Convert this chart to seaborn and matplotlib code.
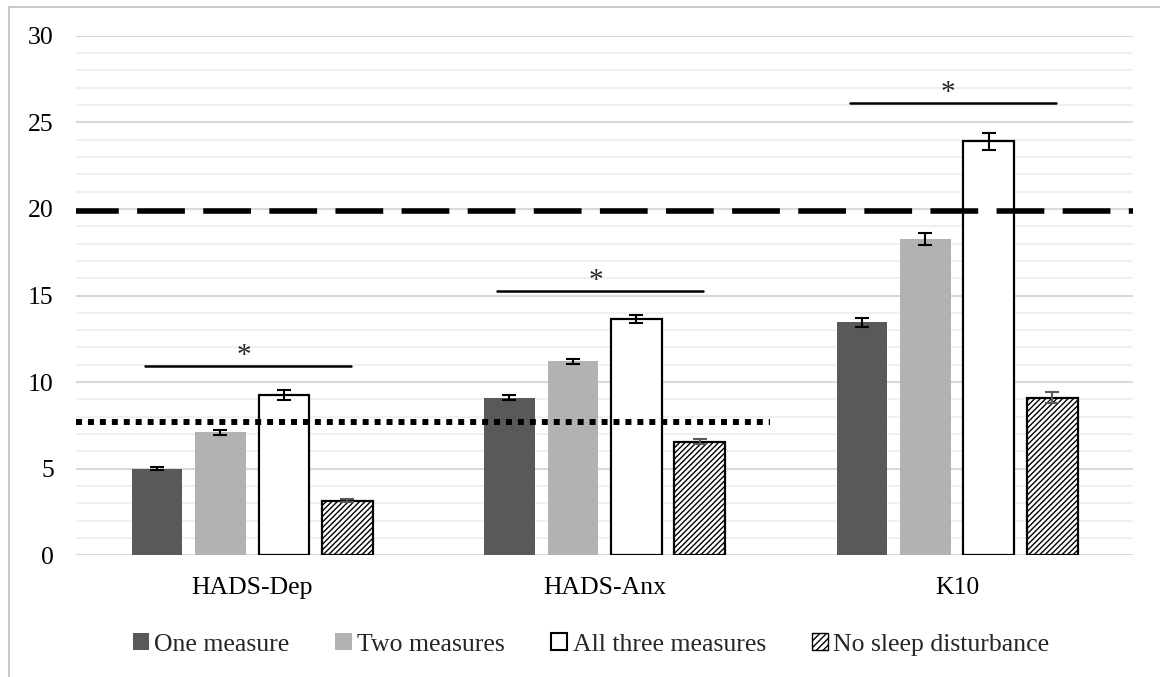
import numpy as np
import pandas as pd
import matplotlib
matplotlib.use("Agg")
import matplotlib.pyplot as plt
import seaborn as sns
from matplotlib.patches import Patch
from matplotlib.lines import Line2D

measures = ["HADS-Dep", "HADS-Anx", "K10"]
groups = ["One measure", "Two measures", "All three measures", "No sleep disturbance"]
values = {
    "One measure": [5.0, 9.1, 13.45],
    "Two measures": [7.1, 11.2, 18.25],
    "All three measures": [9.25, 13.65, 23.9],
    "No sleep disturbance": [3.15, 6.55, 9.1],
}
errors = {
    "One measure": [0.1, 0.15, 0.25],
    "Two measures": [0.15, 0.15, 0.35],
    "All three measures": [0.3, 0.25, 0.5],
    "No sleep disturbance": [0.1, 0.15, 0.3],
}
sig_levels = [10.9, 15.25, 26.1]
cutoff_k10 = 19.9
cutoff_hads = 7.7

sns.set_theme(style="white")
plt.rcParams["font.family"] = ["Liberation Serif", "DejaVu Serif"]
plt.rcParams["hatch.linewidth"] = 1.0

rows = []
for g in groups:
    for m, v in zip(measures, values[g]):
        rows.append({"measure": m, "group": g, "value": v})
df = pd.DataFrame(rows)

fig = plt.figure(figsize=(11.6, 6.77), dpi=100)
ax = fig.add_axes([0.0655, 0.180, 0.9115, 0.767])

face = {"One measure": "#595959", "Two measures": "#b2b2b2",
        "All three measures": "white", "No sleep disturbance": "white"}
sns.barplot(data=df, x="measure", y="value", hue="group", hue_order=groups,
            order=measures, palette=face, width=0.72, gap=0.2, errorbar=None,
            legend=False, ax=ax, zorder=3, saturation=1)

bar_containers = list(ax.containers)[:len(groups)]
for gi, container in enumerate(bar_containers):
    g = groups[gi]
    for bi, bar in enumerate(container):
        if g in ("All three measures", "No sleep disturbance"):
            bar.set_edgecolor("black")
            bar.set_linewidth(1.6)
        else:
            bar.set_edgecolor("none")
        if g == "No sleep disturbance":
            bar.set_hatch("//////")
        cx = bar.get_x() + bar.get_width() / 2
        ecol = "#595959" if g == "No sleep disturbance" else "black"
        ax.errorbar(cx, values[g][bi], yerr=errors[g][bi], fmt="none",
                    ecolor=ecol, elinewidth=1.5, capsize=5, capthick=1.5, zorder=4)

ax.set_xlim(-0.5, 2.5)
ax.set_ylim(0, 30)
ax.set_yticks(np.arange(0, 31, 5))
ax.set_yticks(np.arange(0, 31, 1), minor=True)
ax.grid(axis="y", which="minor", color="#f0f0f0", linewidth=1.5, zorder=0)
ax.grid(axis="y", which="major", color="#d9d9d9", linewidth=1.5, zorder=0)
ax.set_axisbelow(True)
for s in ax.spines.values():
    s.set_visible(False)
ax.tick_params(axis="both", which="both", length=0, labelsize=18.5, colors="black")
ax.tick_params(axis="y", pad=16)
ax.tick_params(axis="x", pad=16)
ax.set_xlabel("")
ax.set_ylabel("")

# reference lines
ax.axhline(cutoff_k10, xmin=0, xmax=1, color="black", linewidth=4,
           linestyle=(0.9, (8.6, 3.3)), zorder=5)
ax.plot([-0.5, 1.47], [cutoff_hads, cutoff_hads], color="black", linewidth=4.3,
        dashes=(1, 1), zorder=5, solid_capstyle="butt", dash_capstyle="butt")

# significance bars
for i, lvl in enumerate(sig_levels):
    ax.plot([i - 0.305, i + 0.28], [lvl, lvl], color="black", linewidth=1.8, zorder=5)
    ax.text(i - 0.025, lvl - 0.15, "*", ha="center", va="bottom", fontsize=21)

handles = [
    Patch(facecolor="#595959", edgecolor="none", label="One measure"),
    Patch(facecolor="#b2b2b2", edgecolor="none", label="Two measures"),
    Patch(facecolor="white", edgecolor="black", linewidth=1.5, label="All three measures"),
    Patch(facecolor="white", edgecolor="black", linewidth=1.0, hatch="/////", label="No sleep disturbance"),
]
fig.legend(handles=handles, loc="center", bbox_to_anchor=(0.5095, 0.048), ncol=4,
           frameon=False, fontsize=18.5, handlelength=0.65, handleheight=0.65,
           handletextpad=0.2, columnspacing=1.78)

# figure border (top and left)
fig.add_artist(Line2D([0.0078, 1.0], [0.9897, 0.9897], color="#bfbfbf", linewidth=1.2,
                      transform=fig.transFigure))
fig.add_artist(Line2D([0.0078, 0.0078], [0.0, 0.9897], color="#bfbfbf", linewidth=1.2,
                      transform=fig.transFigure))

fig.savefig("out.png", dpi=100, facecolor="white")
